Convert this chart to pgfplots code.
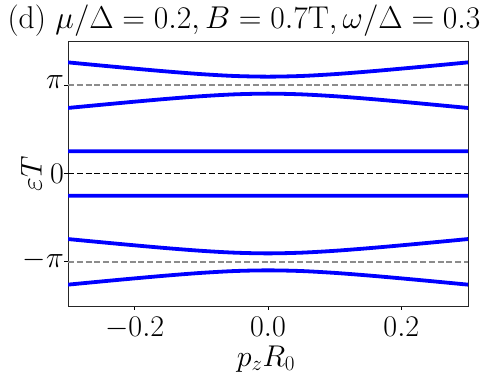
\RequirePackage{fix-cm}
\documentclass[border=0pt]{standalone}
\usepackage{pgfplots}
\pgfplotsset{compat=1.18}
\definecolor{bandblue}{HTML}{0000FF}
\definecolor{refgray}{HTML}{8C8C8C}
\begin{document}
\fontsize{30}{36}\selectfont
\begin{tikzpicture}
\begin{axis}[
    name=main,
    width=400pt, height=265pt, scale only axis,
    xmin=-0.3, xmax=0.3, ymin=-4.712, ymax=4.712,
    xtick={-0.2,0,0.2}, xticklabels={$-0.2$,$0.0$,$0.2$},
    ytick={-3.14159,0,3.14159},
    yticklabels={\raisebox{6pt}{$-\pi$},$0$,\raisebox{6pt}{$\pi$}},
    tick align=outside, xtick pos=bottom, ytick pos=left,
    major tick length=3.5pt,
    tick style={black, line width=0.8pt},
    axis line style={black!85, line width=0.9pt},
    tick label style={font=\fontsize{30}{36}\selectfont, inner sep=0pt},
    label style={font=\fontsize{30}{36}\selectfont},
    xticklabel style={anchor=north, yshift=-7pt},
    yticklabel style={anchor=east, xshift=-0.5pt},
    xlabel={$p_z R_0$}, ylabel={$\varepsilon T$},
    xlabel style={at={(axis description cs:0.495,-0.228)}, anchor=base},
    ylabel style={at={(axis description cs:-0.066,0.5)}, anchor=base},
    title={(d)\ $\mu/\Delta=0.2, B=0.7\mathrm{T}, \omega/\Delta=0.3$},
    title style={at={(0.44,1.0264)}, anchor=base, inner sep=0pt,
                 font=\fontsize{31.5}{38}\selectfont},
    clip=true,
  ]
  % reference levels
  \addplot[refgray, line width=1.8pt, dash pattern=on 6pt off 2.8pt] coordinates {(-0.3,3.14159) (0.3,3.14159)};
  \addplot[refgray, line width=1.8pt, dash pattern=on 6pt off 2.8pt] coordinates {(-0.3,-3.14159) (0.3,-3.14159)};
  \addplot[black, line width=1.8pt, dash pattern=on 6pt off 2.8pt] coordinates {(-0.3,0) (0.3,0)};
  % quasi-energy bands
  \addplot[bandblue, line width=3.8pt, smooth] coordinates {
    (-0.30,3.952) (-0.25,3.839) (-0.20,3.729) (-0.15,3.625) (-0.10,3.534) (-0.05,3.468) (0.00,3.444)
    (0.05,3.468) (0.10,3.534) (0.15,3.625) (0.20,3.729) (0.25,3.839) (0.30,3.952)};
  \addplot[bandblue, line width=3.8pt, smooth] coordinates {
    (-0.30,2.331) (-0.25,2.444) (-0.20,2.554) (-0.15,2.658) (-0.10,2.749) (-0.05,2.815) (0.00,2.840)
    (0.05,2.815) (0.10,2.749) (0.15,2.658) (0.20,2.554) (0.25,2.444) (0.30,2.331)};
  \addplot[bandblue, line width=3.8pt] coordinates {(-0.30,0.790) (0.00,0.792) (0.30,0.790)};
  \addplot[bandblue, line width=3.8pt] coordinates {(-0.30,-0.790) (0.00,-0.792) (0.30,-0.790)};
  \addplot[bandblue, line width=3.8pt, smooth] coordinates {
    (-0.30,-2.331) (-0.25,-2.444) (-0.20,-2.554) (-0.15,-2.658) (-0.10,-2.749) (-0.05,-2.815) (0.00,-2.840)
    (0.05,-2.815) (0.10,-2.749) (0.15,-2.658) (0.20,-2.554) (0.25,-2.444) (0.30,-2.331)};
  \addplot[bandblue, line width=3.8pt, smooth] coordinates {
    (-0.30,-3.952) (-0.25,-3.839) (-0.20,-3.729) (-0.15,-3.625) (-0.10,-3.534) (-0.05,-3.468) (0.00,-3.444)
    (0.05,-3.468) (0.10,-3.534) (0.15,-3.625) (0.20,-3.729) (0.25,-3.839) (0.30,-3.952)};
\end{axis}
% page frame as in the reference: 68 left, 25 right, 41 top, 79 below the axis
\pgfresetboundingbox
\useasboundingbox ([shift={(-68pt,-79pt)}]main.south west) rectangle ([shift={(25pt,41pt)}]main.north east);
\end{tikzpicture}
\end{document}
